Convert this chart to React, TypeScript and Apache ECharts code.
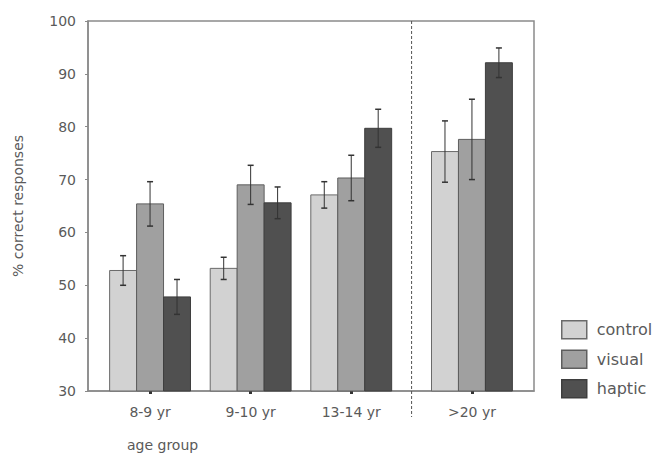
import React, { useEffect, useRef } from "react";
import * as echarts from "echarts";

const categories = ["8-9 yr", "9-10 yr", "13-14 yr", ">20 yr"];
const groupPositions = [1, 2, 3, 4.2];
const seriesNames = ["control", "visual", "haptic"];
const controlValues = [52.8, 53.2, 67.1, 75.3];
const controlErrors = [2.8, 2.1, 2.5, 5.8];
const visualValues = [65.4, 69.0, 70.3, 77.6];
const visualErrors = [4.2, 3.7, 4.3, 7.6];
const hapticValues = [47.8, 65.6, 79.7, 92.1];
const hapticErrors = [3.3, 3.0, 3.6, 2.8];
const dividerPosition = 3.6;
const yTicks = [30, 40, 50, 60, 70, 80, 90, 100];

const seriesValues = [controlValues, visualValues, hapticValues];
const seriesErrors = [controlErrors, visualErrors, hapticErrors];
const fills = ["#d2d2d2", "#a0a0a0", "#505050"];
const borders = ["#6a6a6a", "#5e5e5e", "#3e3e3e"];
const BAR_W = 0.268;
const FONT = "DejaVu Sans";
const TEXT_COLOR = "#5a5a5a";

export default function App() {
  const ref = useRef<HTMLDivElement>(null);
  useEffect(() => {
    document.body.style.margin = "0";
    const chart = echarts.init(ref.current!, null, { renderer: "svg" });

    const barSeries = seriesNames.map((name, si) => ({
      name,
      type: "custom",
      itemStyle: { color: fills[si], borderColor: borders[si], borderWidth: 1 },
      data: groupPositions.map((p, i) => [p, seriesValues[si][i], seriesErrors[si][i]]),
      encode: { x: 0, y: 1 },
      renderItem: (params: any, api: any) => {
        const pos = api.value(0);
        const v = api.value(1);
        const e = api.value(2);
        const w = api.size([BAR_W, 0])[0];
        const center = api.coord([pos, v]);
        const base = api.coord([pos, 30]);
        const cx = center[0] + (si - 1) * w;
        const hi = api.coord([pos, v + e])[1];
        const lo = api.coord([pos, v - e])[1];
        const cap = 3;
        return {
          type: "group",
          children: [
            {
              type: "rect",
              shape: { x: cx - w / 2, y: center[1], width: w, height: base[1] - center[1] },
              style: { fill: fills[si], stroke: borders[si], lineWidth: 1 },
            },
            {
              type: "line",
              shape: { x1: cx, y1: hi, x2: cx, y2: lo },
              style: { stroke: "#333", lineWidth: 1 },
            },
            {
              type: "line",
              shape: { x1: cx - cap, y1: hi, x2: cx + cap, y2: hi },
              style: { stroke: "#333", lineWidth: 1.5 },
            },
            {
              type: "line",
              shape: { x1: cx - cap, y1: lo, x2: cx + cap, y2: lo },
              style: { stroke: "#333", lineWidth: 1.5 },
            },
          ],
        };
      },
    }));

    const dividerSeries = {
      name: "divider",
      type: "custom",
      clip: false,
      silent: true,
      data: [[dividerPosition, 100]],
      encode: { x: 0, y: 1 },
      renderItem: (params: any, api: any) => {
        const top = api.coord([api.value(0), 100]);
        const bottom = api.coord([api.value(0), 30]);
        return {
          type: "line",
          shape: { x1: top[0], y1: top[1], x2: top[0], y2: bottom[1] + 26 },
          style: { stroke: "#555", lineWidth: 1, lineDash: [3, 2] },
        };
      },
    };

    chart.setOption({
      animation: false,
      backgroundColor: "#ffffff",
      textStyle: { fontFamily: FONT },
      grid: {
        left: 88,
        top: 21,
        right: 122,
        bottom: 65,
        show: true,
        borderColor: "#8a8a8a",
        borderWidth: 1.5,
        backgroundColor: "transparent",
      },
      legend: {
        orient: "vertical",
        left: 556,
        top: 315,
        itemWidth: 25,
        itemHeight: 18,
        itemGap: 10,
        icon: "rect",
        data: seriesNames.map((n, i) => ({
          name: n,
          itemStyle: { color: fills[i], borderColor: borders[i], borderWidth: 1.5 },
        })),
        textStyle: { fontFamily: FONT, fontSize: 16, color: TEXT_COLOR, padding: [0, 0, 0, 5] },
        selectedMode: false,
      },
      xAxis: {
        type: "value",
        min: 0.383,
        max: 4.817,
        splitLine: { show: false },
        axisLine: { show: true, lineStyle: { color: "#8a8a8a", width: 1.5 } },
        axisTick: {
          show: true,
          customValues: groupPositions,
          length: 3,
          lineStyle: { color: "#333", width: 3 },
        },
        axisLabel: {
          customValues: groupPositions,
          margin: 14,
          fontFamily: FONT,
          fontSize: 14,
          color: TEXT_COLOR,
          formatter: (v: number) => {
            const idx = groupPositions.findIndex((p) => Math.abs(p - v) < 1e-6);
            return idx >= 0 ? categories[idx] : "";
          },
        },
      },
      yAxis: {
        type: "value",
        min: 30,
        max: 100,
        interval: 10,
        name: "% correct responses",
        nameLocation: "middle",
        nameGap: 63,
        nameTextStyle: { fontFamily: FONT, fontSize: 14, color: TEXT_COLOR },
        splitLine: { show: false },
        axisLine: { show: true, lineStyle: { color: "#8a8a8a", width: 1.5 } },
        axisTick: { show: true, length: 3, lineStyle: { color: "#8a8a8a" } },
        axisLabel: {
          margin: 12,
          fontFamily: FONT,
          fontSize: 14,
          color: TEXT_COLOR,
          customValues: yTicks,
        },
      },
      graphic: [
        {
          type: "text",
          left: 127,
          top: 438,
          style: { text: "age group", fontFamily: FONT, fontSize: 14, fill: TEXT_COLOR },
        },
      ],
      series: [...barSeries, dividerSeries],
    });
    return () => chart.dispose();
  }, []);
  return <div ref={ref} style={{ width: 656, height: 456 }} />;
}
